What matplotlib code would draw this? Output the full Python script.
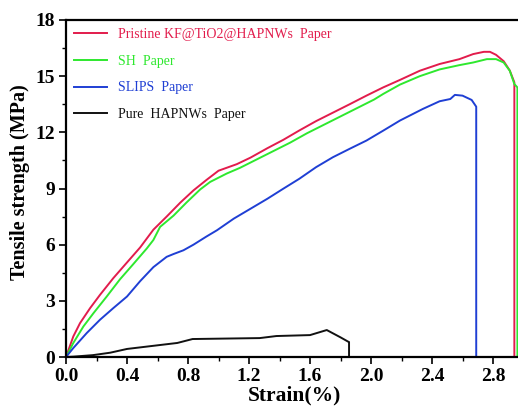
import matplotlib
matplotlib.use('Agg')
import matplotlib.pyplot as plt
from matplotlib.ticker import MultipleLocator

# strain (%) and tensile strength (MPa)
pristine_x = [0, 0.048, 0.092, 0.158, 0.223, 0.31, 0.40, 0.486, 0.573, 0.66, 0.75, 0.836,
              0.92, 1.0, 1.12, 1.21, 1.32, 1.425, 1.53, 1.64, 1.75, 1.86, 1.97, 2.08, 2.19,
              2.32, 2.45, 2.58, 2.67, 2.74, 2.78, 2.82, 2.87, 2.91, 2.94, 2.94]
pristine_y = [0, 1.1, 1.81, 2.61, 3.32, 4.21, 5.05, 5.85, 6.8, 7.5, 8.25, 8.9,
              9.45, 9.95, 10.3, 10.65, 11.15, 11.6, 12.1, 12.6, 13.05, 13.5, 13.96, 14.4, 14.8,
              15.29, 15.65, 15.91, 16.18, 16.3, 16.3, 16.14, 15.8, 15.3, 14.67, 0]

sh_x = [0, 0.048, 0.114, 0.18, 0.267, 0.354, 0.44, 0.53, 0.573, 0.617, 0.705, 0.79, 0.88,
        0.945, 1.054, 1.14, 1.25, 1.36, 1.47, 1.58, 1.69, 1.80, 1.91, 2.02, 2.08, 2.19,
        2.32, 2.45, 2.58, 2.67, 2.76, 2.82, 2.87, 2.91, 2.94, 2.96, 2.96]
sh_y = [0, 0.75, 1.63, 2.34, 3.23, 4.15, 4.95, 5.8, 6.25, 6.95, 7.55, 8.25, 8.95,
        9.35, 9.8, 10.1, 10.55, 11.0, 11.45, 11.95, 12.4, 12.85, 13.3, 13.75, 14.05, 14.55,
        15.0, 15.36, 15.59, 15.73, 15.91, 15.91, 15.73, 15.29, 14.58, 14.4, 0]

slips_x = [0, 0.048, 0.136, 0.223, 0.31, 0.40, 0.486, 0.573, 0.66, 0.705, 0.77, 0.836, 0.92,
           0.99, 1.10, 1.21, 1.32, 1.425, 1.53, 1.64, 1.75, 1.86, 1.97, 2.08, 2.19, 2.34,
           2.45, 2.52, 2.55, 2.60, 2.66, 2.69, 2.69]
slips_y = [0, 0.48, 1.28, 1.99, 2.61, 3.23, 4.05, 4.8, 5.35, 5.5, 5.7, 6.0, 6.43,
           6.77, 7.39, 7.92, 8.45, 8.99, 9.52, 10.14, 10.67, 11.12, 11.56, 12.09, 12.63, 13.25,
           13.66, 13.78, 14.0, 13.96, 13.73, 13.37, 0]

pure_x = [0, 0.05, 0.177, 0.29, 0.40, 0.73, 0.83, 1.27, 1.38, 1.60, 1.71, 1.80, 1.85, 1.856, 1.856]
pure_y = [0, 0.02, 0.1, 0.23, 0.43, 0.75, 0.96, 1.01, 1.12, 1.17, 1.44, 1.05, 0.82, 0.8, 0]

labels = ['Pristine KF@TiO2@HAPNWs  Paper', 'SH  Paper', 'SLIPS  Paper', 'Pure  HAPNWs  Paper']
colors = ['#e21c4c', '#2ee82e', '#1f3fd4', '#111111']

serif = 'Liberation Serif'

fig = plt.figure(figsize=(5.18, 4.09), dpi=100)
W, H = 518, 409
ax = fig.add_axes([66 / W, 1 - 357 / H, (523.5 - 66) / W, (357 - 20) / H])

series = [(pristine_x, pristine_y), (sh_x, sh_y), (slips_x, slips_y), (pure_x, pure_y)]
for (xs, ys), lab, c in zip(series, labels, colors):
    ax.plot(xs, ys, color=c, lw=1.4, label=lab)

ax.set_xlim(0, 3.0)
ax.set_ylim(0, 18)
ax.xaxis.set_major_locator(MultipleLocator(0.4))
ax.xaxis.set_minor_locator(MultipleLocator(0.2))
ax.yaxis.set_major_locator(MultipleLocator(3))
ax.yaxis.set_minor_locator(MultipleLocator(1.5))
ax.xaxis.set_major_formatter(plt.FormatStrFormatter('%.1f'))
ax.tick_params(which='major', direction='out', length=5, width=1.2, pad=3)
ax.tick_params(which='minor', direction='out', length=3, width=1.0)
for sp in ax.spines.values():
    sp.set_linewidth(1.6)

for t in ax.get_xticklabels() + ax.get_yticklabels():
    t.set_fontfamily(serif)
    t.set_fontweight('bold')
    t.set_fontsize(14)

ax.set_xlabel('Strain(%)', fontfamily=serif, fontweight='bold', fontsize=15.5, labelpad=0)
ax.set_ylabel('Tensile strength (MPa)', fontfamily=serif, fontweight='bold', fontsize=14.5)
ax.yaxis.set_label_coords(-0.078, 0.52)

leg = ax.legend(loc='upper left', frameon=False, labelcolor='linecolor',
                prop={'family': serif, 'size': 10}, handlelength=2.4,
                handletextpad=0.8, labelspacing=1.0,
                bbox_to_anchor=(0.0, 1.0), borderaxespad=0.15)

fig.savefig('out.png', dpi=100)
